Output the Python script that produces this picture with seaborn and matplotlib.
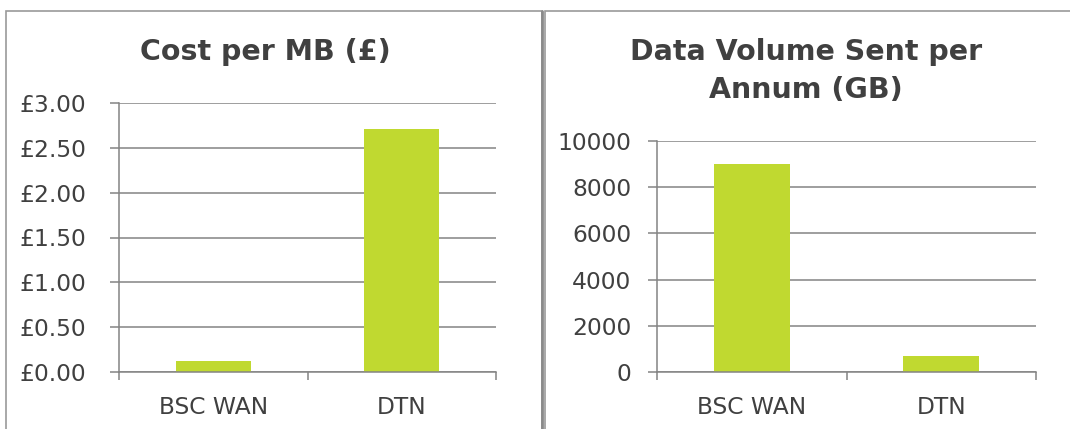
import matplotlib
matplotlib.use("Agg")
import matplotlib.pyplot as plt
import seaborn as sns
import pandas as pd
from matplotlib.patches import Rectangle
from matplotlib.ticker import FuncFormatter, MultipleLocator

# ---- data ----
categories = ["BSC WAN", "DTN"]
cost_per_mb = [0.12, 2.71]
volume_gb = [9000, 700]
title_left = "Cost per MB (£)"
title_right = "Data Volume Sent per\nAnnum (GB)"

sns.set_theme(style="white")
plt.rcParams["font.family"] = ["DejaVu Sans"]

BAR = "#C0D930"
TXT = "#404040"
GRID = "#848484"

W, H = 1070, 429
fig = plt.figure(figsize=(W / 100, H / 100), dpi=100)
fig.patch.set_facecolor("white")

def fx(px):
    return px / W

def fy(py):
    return 1 - py / H

# panel borders
fig.patches.append(Rectangle((fx(6), fy(440)), fx(542 - 6), fy(11) - fy(440),
                             transform=fig.transFigure, fill=False,
                             edgecolor="#9a9a9a", linewidth=1.2))
fig.add_artist(plt.Line2D([fx(542), fx(542)], [fy(11), 0], transform=fig.transFigure,
                          color="#8a8a8a", linewidth=2.0))
fig.patches.append(Rectangle((fx(545), fy(440)), fx(1090 - 545), fy(11) - fy(440),
                             transform=fig.transFigure, fill=False,
                             edgecolor="#9a9a9a", linewidth=1.2))


def style_axes(ax, ymax, step, fmt, ypad):
    ax.set_xlim(-0.5, 1.5)
    ax.set_ylim(0, ymax)
    ax.yaxis.set_major_locator(MultipleLocator(step))
    ax.yaxis.set_major_formatter(FuncFormatter(fmt))
    ax.grid(axis="y", color=GRID, linewidth=1.1)
    ax.set_axisbelow(True)
    for s in ["top", "right"]:
        ax.spines[s].set_visible(False)
    for s in ["left", "bottom"]:
        ax.spines[s].set_color(GRID)
        ax.spines[s].set_linewidth(1.1)
    ax.set_xlabel("")
    ax.set_ylabel("")
    ax.set_xticks([0, 1])
    ax.set_xticklabels(categories)
    ax.set_xticks([-0.5, 0.5, 1.5], minor=True)
    ax.tick_params(axis="x", which="major", length=0, pad=17.5, labelsize=16.8, labelcolor=TXT)
    ax.tick_params(axis="x", which="minor", length=6, width=1.1, color=GRID, direction="out", bottom=True)
    ax.tick_params(axis="y", length=6.5, width=1.1, color=GRID, direction="out", left=True,
                   pad=ypad, labelsize=16.8, labelcolor=TXT)


# left panel
ax1 = fig.add_axes([fx(119), fy(372), fx(496 - 119), fy(103) - fy(372)])
df1 = pd.DataFrame({"cat": categories, "val": cost_per_mb})
sns.barplot(data=df1, x="cat", y="val", color=BAR, width=0.4, ax=ax1, saturation=1)
style_axes(ax1, 3, 0.5, lambda v, p: f"£{v:.2f}", 17)
fig.text(fx(265), fy(52), title_left, ha="center", va="center", fontsize=20.5,
         fontweight="bold", color=TXT)

# right panel
ax2 = fig.add_axes([fx(657), fy(372), fx(1036 - 657), fy(141) - fy(372)])
df2 = pd.DataFrame({"cat": categories, "val": volume_gb})
sns.barplot(data=df2, x="cat", y="val", color=BAR, width=0.4, ax=ax2, saturation=1)
style_axes(ax2, 10000, 2000, lambda v, p: f"{int(v)}", 12)
fig.text(fx(806), fy(71), title_right, ha="center", va="center", fontsize=20.5,
         fontweight="bold", color=TXT, linespacing=1.42)

for ax in (ax1, ax2):
    for bar in ax.patches:
        bar.set_edgecolor("none")

fig.savefig("out.png", dpi=100, facecolor="white")
